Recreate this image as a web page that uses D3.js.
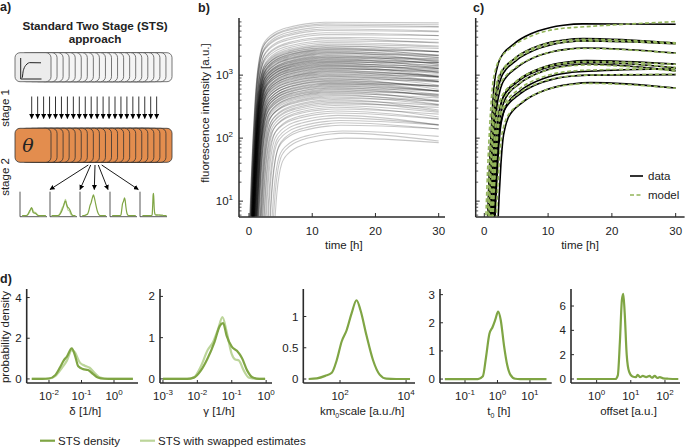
<!DOCTYPE html>
<html><head><meta charset="utf-8">
<script src="https://cdn.jsdelivr.net/npm/d3@7"></script>
<style>
body{margin:0;background:#fff}
svg{display:block}
text{font-family:"Liberation Sans",Arial,Helvetica,sans-serif;fill:#222}
</style>
</head><body>
<svg id="fig" width="685" height="447"></svg>
<script>
// ---------------- DATA ----------------
// panel b: common normalised rise profile (fraction of plateau) vs time since onset [h]
const shapeT = [0, 0.2, 0.4, 0.6, 0.9, 1.2, 1.6, 2, 2.5, 3, 4, 5, 6, 8, 10, 12];
const shapeF = [0.0004, 0.0014, 0.005, 0.014, 0.05, 0.13, 0.27, 0.4, 0.5, 0.57, 0.68, 0.76, 0.82, 0.91, 0.97, 1.0];
// panel c: slower approach to plateau
const cShapeT = [0, 0.2, 0.4, 0.6, 0.9, 1.2, 1.6, 2, 2.5, 3, 4, 5, 6, 8, 10, 12, 15];
const cShapeF = [0.0004, 0.0014, 0.005, 0.014, 0.05, 0.12, 0.2, 0.27, 0.33, 0.38, 0.46, 0.55, 0.63, 0.77, 0.88, 0.95, 1.0];

// panel b: single-cell trajectories (plateau value, ratio final/plateau at 30h, onset [h])
const bPlateau = [6900,6500,6200,5800,5400,5100,4700,4400,4000,3800,3500,3300,3100,
  2950,2880,2750,2700,2620,2550,2500,2430,2350,2300,2240,2180,2120,2050,2010,
  1960,1920,1880,1840,1790,1750,1720,1680,1650,1610,1580,1540,1500,1470,1430,1400,1370,1330,1300,1270,1240,1200,1170,1140,1110,1080,1050,1020,
  990,960,940,910,880,860,830,810,790,760,740,720,700,680,660,640,620,600,580,560,545,530,510,
  490,470,450,430,410,390,370,350,330,310,290,270,250,230,210,
  190,175,160,130,120,100];
const bRatio = [0.98,0.97,0.95,1.0,0.93,0.96,0.9,0.97,0.92,0.85,0.95,0.88,0.9,
  0.8,0.92,0.85,0.75,0.9,0.82,0.95,0.78,0.88,0.7,0.85,0.93,0.8,0.72,0.9,
  0.85,0.78,0.95,0.7,0.88,0.8,0.92,0.75,0.86,0.98,0.7,0.83,0.9,0.76,0.85,0.68,0.93,0.8,0.72,0.88,0.95,0.78,0.82,0.7,0.9,0.86,0.75,0.92,
  0.8,0.72,0.9,0.85,0.68,0.93,0.78,0.82,0.7,0.88,0.75,0.95,0.8,0.72,0.86,0.7,0.9,0.78,0.83,0.68,0.92,0.75,0.85,
  0.7,0.82,0.75,0.9,0.68,0.85,0.72,0.88,0.78,0.7,0.83,0.75,0.8,0.7,0.78,
  0.85,0.8,0.88,0.82,0.75,0.85];
const bOnset = [0.05,0.1,0.0,0.15,0.1,0.0,0.2,0.1,0.2,0.15,0.1,0.25,0.2,
  0.15,0.3,0.2,0.1,0.35,0.2,0.25,0.3,0.15,0.3,0.4,0.2,0.2,0.35,0.3,
  0.25,0.35,0.2,0.45,0.3,0.35,0.2,0.5,0.3,0.4,0.25,0.55,0.35,0.4,0.3,0.45,0.4,0.25,0.6,0.35,0.45,0.4,0.65,0.45,0.3,0.5,0.45,0.4,
  0.5,0.6,0.4,0.7,0.55,0.45,0.8,0.6,0.5,0.75,0.65,0.55,0.8,0.7,0.6,0.9,0.65,0.75,0.8,0.7,1.0,0.85,0.9,
  1.0,1.2,1.1,0.9,1.3,1.2,1.4,1.3,1.5,1.7,1.5,1.9,1.7,2.0,2.2,
  2.3,2.6,2.5,2.8,3.0,3.2];

// panel c: selected cells, data and model fit
const cPlateau = [6500, 3800, 3500, 2700, 1700, 1600, 1500, 1150, 1000, 760];
const cRatio   = [0.99, 0.85, 0.9, 0.83, 0.88, 0.82, 0.78, 1.1, 1.02, 0.82];
const cOnset   = [0.4, 0.5, 0.7, 0.8, 1.0, 0.9, 1.2, 1.3, 1.1, 1.7];
const mPlateau = [5800, 3700, 3500, 2650, 1650, 1600, 1450, 1200, 1000, 740];
const mRatio   = [1.22, 0.88, 0.9, 0.84, 0.9, 0.83, 0.8, 1.05, 1.03, 0.84];
const mOnset   = [0.1, 0.3, 0.4, 0.5, 0.7, 0.6, 0.9, 1.0, 0.8, 1.4];
const timeTicks = [0, 10, 20, 30];
const fluoMajor = [10, 100, 1000];

// panel d: parameter densities, [log10(value), density]
const densDelta = [[-2.53,0],[-2.2,0],[-2.0,0.02],[-1.8,0.2],[-1.65,0.6],[-1.55,0.9],[-1.45,1.1],[-1.3,1.5],[-1.2,1.15],[-1.1,0.62],[-0.95,0.48],[-0.8,0.44],[-0.65,0.25],[-0.5,0.07],[-0.3,0.01],[0,0],[0.58,0]];
const densDeltaSw = [[-2.53,0],[-2.0,0.02],[-1.8,0.15],[-1.6,0.55],[-1.45,0.9],[-1.3,1.42],[-1.2,1.3],[-1.05,0.8],[-0.9,0.65],[-0.75,0.55],[-0.6,0.3],[-0.45,0.08],[-0.2,0.01],[0.58,0]];
const densGamma = [[-3.0,0],[-2.3,0],[-2.1,0.03],[-1.9,0.2],[-1.7,0.5],[-1.5,0.9],[-1.35,1.28],[-1.25,1.35],[-1.15,1.05],[-1.0,0.78],[-0.85,0.68],[-0.7,0.5],[-0.55,0.2],[-0.4,0.04],[-0.2,0],[-0.03,0]];
const densGammaSw = [[-3.0,0],[-2.3,0],[-2.1,0.04],[-1.9,0.3],[-1.7,0.7],[-1.55,0.88],[-1.4,1.2],[-1.27,1.5],[-1.15,1.15],[-1.0,0.6],[-0.9,0.47],[-0.8,0.45],[-0.65,0.2],[-0.5,0.03],[-0.2,0],[-0.03,0]];
const densKm = [[1.05,0],[1.3,0.01],[1.55,0.05],[1.75,0.1],[1.9,0.3],[2.05,0.6],[2.2,0.78],[2.35,1.05],[2.5,1.26],[2.62,1.1],[2.8,0.7],[3.0,0.3],[3.2,0.07],[3.4,0.005],[3.7,0],[4.12,0]];
const densT0 = [[-1.62,0],[-0.6,0],[-0.45,0.1],[-0.35,0.8],[-0.25,1.6],[-0.15,1.85],[-0.07,2.1],[0.02,2.4],[0.1,2.1],[0.2,1.2],[0.3,0.5],[0.4,0.15],[0.55,0.01],[0.7,0],[1.51,0]];
const densOffset = [[-0.58,0],[0.55,0],[0.62,0.3],[0.68,3],[0.74,6.5],[0.78,7.0],[0.82,5.5],[0.88,2],[0.95,0.6],[1.05,0.2],[1.15,0.15],[1.2,0.35],[1.27,0.15],[1.35,0.25],[1.45,0.15],[1.55,0.25],[1.62,0.1],[1.7,0.25],[1.78,0.08],[1.85,0.15],[1.95,0.05],[2.1,0.02],[2.39,0]];

// ---------------- DRAW ----------------
const svg = d3.select('#fig');
const AX = '#2b2b2b', GREEN = '#7fa544', LGREEN = '#bcd59a', ORANGE = '#e38d4e', MODEL = '#93b55a';
const FS = 11.5;

function trajectory(plateau, ratio, onset, sT, sF) {
  const pts = sT.map((tau, i) => [onset + tau, plateau * sF[i]]);
  pts.push([30, plateau * ratio]);
  return pts;
}
function supText(g, x, y, base, sup, anchor) {
  const t = g.append('text').attr('x', x).attr('y', y).attr('text-anchor', anchor).attr('font-size', FS);
  t.append('tspan').text(base);
  t.append('tspan').attr('font-size', 8).attr('dy', -5).text(sup);
  return t;
}

// ---------- panel labels ----------
[['a)', 0, 11], ['b)', 198, 12], ['c)', 473, 12], ['d)', 0, 283]].forEach(([s, x, y]) =>
  svg.append('text').attr('x', x).attr('y', y).attr('font-size', 12.5).attr('font-weight', 'bold').text(s));

// ---------- time course axes (b, c) ----------
const yF = d3.scaleLog().domain([5.6, 7500]).range([217, 20]);
const minorVals = [];
[1, 10, 100, 1000].forEach(d => d3.range(2, 10).forEach(k => { const v = d * k; if (v > 5.6 && v < 7500) minorVals.push(v); }));

function timeAxes(x, showLabels, idc) {
  const g = svg.append('g');
  const [x0, x1] = x.range();
  g.append('line').attr('x1', x0).attr('x2', x0).attr('y1', 18).attr('y2', 217).attr('stroke', AX).attr('stroke-width', 1.5);
  g.append('line').attr('x1', x0).attr('x2', x1).attr('y1', 217).attr('y2', 217).attr('stroke', AX).attr('stroke-width', 1.5);
  g.selectAll('.mj').data(fluoMajor).join('line').attr('x1', x0).attr('x2', x0 + 4)
    .attr('y1', d => yF(d)).attr('y2', d => yF(d)).attr('stroke', AX);
  g.selectAll('.mn').data(minorVals).join('line').attr('x1', x0).attr('x2', x0 + 2.5)
    .attr('y1', d => yF(d)).attr('y2', d => yF(d)).attr('stroke', AX).attr('stroke-width', 0.8);
  g.selectAll('.xt').data(timeTicks).join('line').attr('x1', d => x(d)).attr('x2', d => x(d))
    .attr('y1', 217).attr('y2', 213).attr('stroke', AX);
  timeTicks.forEach(d => g.append('text').attr('x', x(d)).attr('y', 235).attr('text-anchor', 'middle').attr('font-size', FS).text(d));
  g.append('text').attr('x', (x(0) + x(30)) / 2).attr('y', 249).attr('text-anchor', 'middle').attr('font-size', FS).text('time [h]');
  if (showLabels) {
    fluoMajor.forEach((d, i) => supText(g, x0 - 6, yF(d) + 4, '10', String(i + 1), 'end'));
  }
  svg.append('clipPath').attr('id', idc).append('rect').attr('x', x0 + 0.5).attr('y', 14).attr('width', x1 - x0).attr('height', 217 - 14 - 0.8);
  return g;
}

// panel b
const xB = d3.scaleLinear().domain([-1.58, 31]).range([239, 445]);
const lineB = d3.line().x(d => xB(d[0])).y(d => yF(Math.max(d[1], 1))).curve(d3.curveMonotoneX);
timeAxes(xB, true, 'clipB');
svg.append('g').attr('clip-path', 'url(#clipB)')
  .selectAll('path').data(bPlateau.map((p, i) => trajectory(p, bRatio[i], bOnset[i], shapeT, shapeF)))
  .join('path').attr('d', lineB).attr('fill', 'none').attr('stroke', '#000')
  .attr('stroke-opacity', 0.22).attr('stroke-width', 1.1);
svg.append('text').attr('transform', 'translate(209,113) rotate(-90)').attr('text-anchor', 'middle')
  .attr('font-size', FS).text('fluorescence intensity [a.u.]');

// panel c
const xC = d3.scaleLinear().domain([-1.35, 31.4]).range([475.7, 684.6]);
const lineC = d3.line().x(d => xC(d[0])).y(d => yF(Math.max(d[1], 1))).curve(d3.curveMonotoneX);
timeAxes(xC, false, 'clipC');
const gc = svg.append('g').attr('clip-path', 'url(#clipC)');
gc.selectAll('.dat').data(cPlateau.map((p, i) => trajectory(p, cRatio[i], cOnset[i], cShapeT, cShapeF)))
  .join('path').attr('d', lineC).attr('fill', 'none').attr('stroke', '#000').attr('stroke-width', 1.6);
gc.selectAll('.mod').data(mPlateau.map((p, i) => trajectory(p, mRatio[i], mOnset[i], cShapeT, cShapeF)))
  .join('path').attr('d', lineC).attr('fill', 'none').attr('stroke', MODEL).attr('stroke-width', 1.6)
  .attr('stroke-dasharray', '4,2.5');
// legend c
svg.append('line').attr('x1', 630).attr('x2', 643).attr('y1', 176).attr('y2', 176).attr('stroke', '#000').attr('stroke-width', 1.6);
svg.append('text').attr('x', 648).attr('y', 180).attr('font-size', FS).text('data');
svg.append('line').attr('x1', 630).attr('x2', 643).attr('y1', 195).attr('y2', 195).attr('stroke', MODEL).attr('stroke-width', 1.6).attr('stroke-dasharray', '4,2.5');
svg.append('text').attr('x', 648).attr('y', 199).attr('font-size', FS).text('model');

// ---------- panel d ----------
const dPanels = [
  {x0: 26.7, x1: 138, xd: [-2.686, 0.738], yd: [-0.2, 4.42], yt: [0, 2, 4], xt: [-2, -1, 0], dark: densDelta, light: densDeltaSw},
  {x0: 160, x1: 272, xd: [-3.086, 0.17], yd: [-0.1, 2.18], yt: [0, 1, 2], xt: [-3, -2, -1, 0], dark: densGamma, light: densGammaSw},
  {x0: 303.3, x1: 415, xd: [0.888, 4.27], yd: [-0.064, 1.44], yt: [0, 0.5, 1], xt: [2, 4], dark: densKm},
  {x0: 440, x1: 551.7, xd: [-1.77, 1.67], yd: [-0.14, 3.2], yt: [0, 1, 2, 3], xt: [-1, 0, 1], dark: densT0},
  {x0: 571, x1: 680, xd: [-0.75, 2.44], yd: [-0.33, 7.4], yt: [0, 2, 4, 6], xt: [0, 1, 2], dark: densOffset}
];
const dLabels = [
  t => t.text('δ  [1/h]'),
  t => t.text('γ  [1/h]'),
  t => { t.append('tspan').text('km'); t.append('tspan').attr('font-size', 7).attr('dy', 3).text('0'); t.append('tspan').attr('dy', -3).text('scale [a.u./h]'); },
  t => { t.append('tspan').text('t'); t.append('tspan').attr('font-size', 7).attr('dy', 3).text('0'); t.append('tspan').attr('dy', -3).text(' [h]'); },
  t => t.text('offset [a.u.]')
];
dPanels.forEach((p, k) => {
  const g = svg.append('g');
  const x = d3.scaleLinear().domain(p.xd).range([p.x0, p.x1]);
  const y = d3.scaleLinear().domain(p.yd).range([383, 289]);
  const ln = d3.line().x(d => x(d[0])).y(d => y(d[1])).curve(d3.curveMonotoneX);
  g.append('line').attr('x1', p.x0).attr('x2', p.x0).attr('y1', 289).attr('y2', 383).attr('stroke', AX).attr('stroke-width', 1.6);
  g.append('line').attr('x1', p.x0).attr('x2', p.x1).attr('y1', 383).attr('y2', 383).attr('stroke', AX).attr('stroke-width', 1.6);
  p.yt.forEach(v => {
    g.append('line').attr('x1', p.x0).attr('x2', p.x0 + 3).attr('y1', y(v)).attr('y2', y(v)).attr('stroke', AX);
    g.append('text').attr('x', p.x0 - 5).attr('y', y(v) + 4).attr('text-anchor', 'end').attr('font-size', FS).text(d3.format('~g')(v));
  });
  p.xt.forEach(v => {
    g.append('line').attr('x1', x(v)).attr('x2', x(v)).attr('y1', 383).attr('y2', 380).attr('stroke', AX);
    supText(g, x(v), 400, '10', String(v), 'middle');
  });
  dLabels[k](g.append('text').attr('x', (p.x0 + p.x1) / 2 + 3).attr('y', 415).attr('text-anchor', 'middle').attr('font-size', FS));
  if (p.light) g.append('path').attr('d', ln(p.light)).attr('fill', 'none').attr('stroke', LGREEN).attr('stroke-width', 2.2);
  g.append('path').attr('d', ln(p.dark)).attr('fill', 'none').attr('stroke', GREEN).attr('stroke-width', 2.2);
});
svg.append('text').attr('transform', 'translate(9,337) rotate(-90)').attr('text-anchor', 'middle')
  .attr('font-size', FS).text('probability density');
// legend d
svg.append('line').attr('x1', 40).attr('x2', 55).attr('y1', 440.7).attr('y2', 440.7).attr('stroke', GREEN).attr('stroke-width', 2.2);
svg.append('text').attr('x', 58).attr('y', 444.5).attr('font-size', FS).text('STS density');
svg.append('line').attr('x1', 140).attr('x2', 155).attr('y1', 440.7).attr('y2', 440.7).attr('stroke', LGREEN).attr('stroke-width', 2.2);
svg.append('text').attr('x', 158).attr('y', 444.5).attr('font-size', FS).text('STS with swapped estimates');

// ---------- panel a (schematic) ----------
const ga = svg.append('g');
ga.append('text').attr('x', 95).attr('y', 30).attr('text-anchor', 'middle').attr('font-size', 11.7).attr('font-weight', 'bold').text('Standard Two Stage (STS)');
ga.append('text').attr('x', 95).attr('y', 43).attr('text-anchor', 'middle').attr('font-size', 11.7).attr('font-weight', 'bold').text('approach');
const cards = d3.range(20, -1, -1);
ga.selectAll('.gc').data(cards).join('rect').attr('x', i => 15 + i * 6.05).attr('y', 52.7).attr('width', 36).attr('height', 29)
  .attr('rx', 5).attr('fill', i => i === 0 ? '#ececec' : '#f4f4f4').attr('stroke', '#555').attr('stroke-width', 0.8);
ga.selectAll('.oc').data(cards).join('rect').attr('x', i => 15 + i * 6.05).attr('y', 128.3).attr('width', 36).attr('height', 34)
  .attr('rx', 5).attr('fill', ORANGE).attr('stroke', '#333').attr('stroke-width', 0.8);
ga.append('text').attr('x', 28).attr('y', 152).attr('text-anchor', 'middle').attr('font-size', 19)
  .attr('font-style', 'italic').style('font-family', '"DejaVu Serif",serif').text('θ');
// icon on front card (first data trajectory of panel c)
const xi = d3.scaleLinear().domain([0, 30]).range([21.5, 41]);
const yi = d3.scaleLinear().domain([0, 7200]).range([78, 61]);
ga.append('path').attr('d', 'M' + [20.7, 58] + 'V79H41.5').attr('fill', 'none').attr('stroke', '#222').attr('stroke-width', 1);
ga.append('path').attr('d', d3.line().x(d => xi(d[0])).y(d => yi(d[1])).curve(d3.curveMonotoneX)(trajectory(cPlateau[0], cRatio[0], cOnset[0], shapeT, shapeF)))
  .attr('fill', 'none').attr('stroke', '#222').attr('stroke-width', 1);
// arrow marker
svg.append('defs').append('marker').attr('id', 'ah').attr('viewBox', '0 0 10 10').attr('refX', 9).attr('refY', 5)
  .attr('markerWidth', 5).attr('markerHeight', 5).attr('markerUnits', 'userSpaceOnUse').attr('orient', 'auto')
  .append('path').attr('d', 'M0,0L10,5L0,10z').attr('fill', '#000');
const arrowX = d3.range(22).map(i => 31.7 + i * 5.95);
ga.selectAll('.va').data(arrowX).join('line').attr('x1', d => d).attr('x2', d => d).attr('y1', 96.5).attr('y2', 118.5)
  .attr('stroke', '#000').attr('stroke-width', 0.8).attr('marker-end', 'url(#ah)');
const miniX = [20, 50, 80, 110, 140];
const fanFrom = [88.3, 90.7, 95, 98.3, 101.7];
const fanTo = [50, 80, 94.3, 108, 138.3];
fanTo.forEach((tx, i) => ga.append('line').attr('x1', fanFrom[i]).attr('y1', 165).attr('x2', tx).attr('y2', 189.5)
  .attr('stroke', '#000').attr('stroke-width', 0.9).attr('marker-end', 'url(#ah)'));
ga.append('text').attr('transform', 'translate(9,108) rotate(-90)').attr('text-anchor', 'middle').attr('font-size', FS).text('stage 1');
ga.append('text').attr('transform', 'translate(9,177) rotate(-90)').attr('text-anchor', 'middle').attr('font-size', FS).text('stage 2');
// mini density plots
dPanels.forEach((p, k) => {
  const x0 = miniX[k];
  const x = d3.scaleLinear().domain(p.xd).range([x0 + 1, x0 + 27]);
  const y = d3.scaleLinear().domain(p.yd).range([216.7, 192]);
  const ln = d3.line().x(d => x(d[0])).y(d => y(d[1])).curve(d3.curveMonotoneX);
  ga.append('path').attr('d', `M${x0},191.7V216.7H${x0 + 27}`).attr('fill', 'none').attr('stroke', '#444').attr('stroke-width', 0.9);
  if (p.light) ga.append('path').attr('d', ln(p.light)).attr('fill', 'none').attr('stroke', LGREEN).attr('stroke-width', 1.2);
  ga.append('path').attr('d', ln(p.dark)).attr('fill', 'none').attr('stroke', GREEN).attr('stroke-width', 1.2);
});
</script>
</body></html>
